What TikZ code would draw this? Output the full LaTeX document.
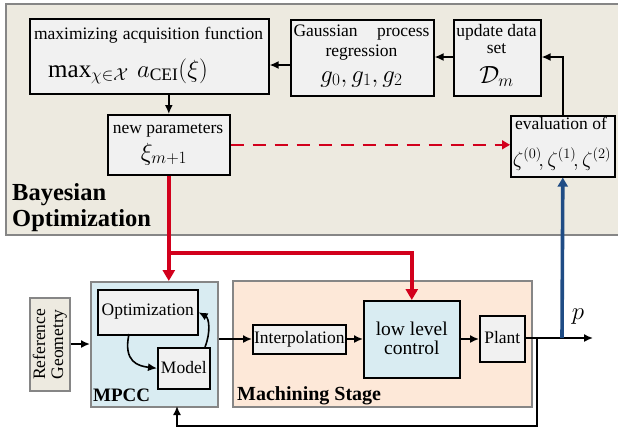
\documentclass[tikz,border=0pt]{standalone}
\usepackage{fontspec}
\setmainfont{Liberation Serif}
\usetikzlibrary{arrows.meta,calc}
\definecolor{bobg}{HTML}{EDEAE0}
\definecolor{boxg}{HTML}{F1F1F1}
\definecolor{grpb}{HTML}{868686}
\definecolor{mpccbg}{HTML}{D9ECF2}
\definecolor{machbg}{HTML}{FDE8D8}
\definecolor{redc}{HTML}{D2001C}
\definecolor{bluec}{HTML}{1F4C85}
\begin{document}
\begin{tikzpicture}[x=1pt,y=-1pt,
  txt/.style={inner sep=0pt, font=\fontsize{17.5}{19}\selectfont},
  mth/.style={inner sep=0pt, font=\fontsize{25}{28}\selectfont},
  ttl/.style={inner sep=0pt, font=\fontsize{#1}{#1}\selectfont\bfseries},
  blk/.style={draw=black, line width=1.6pt, fill=boxg, inner sep=0pt, anchor=north west},
  grp/.style={draw=grpb, line width=1.8pt, inner sep=0pt, anchor=north west},
  arr/.style={-{Latex[length=9pt,width=8pt]}, line width=1.6pt},
  redarr/.style={draw=redc, line width=3.6pt, -{Triangle[length=11pt,width=12pt]}},
  reddash/.style={draw=redc, line width=1.5pt, dash pattern=on 13pt off 9pt, -{Triangle[length=8pt,width=9pt]}},
  bluearr/.style={draw=bluec, line width=3.6pt, -{Triangle[length=9pt,width=10pt]}}]
\useasboundingbox (0,0) rectangle (618,432);
\fill[white] (0,0) rectangle (618,432);

% Bayesian optimization group
\node[grp, fill=bobg, minimum width=625pt, minimum height=231pt] (bo) at (5,3) {};
\node[ttl=24.5, anchor=base west] (bol1) at (12,200) {Bayesian};
\node[ttl=24.5, anchor=base west] (bol2) at (12,226) {Optimization};

% BO blocks
\node[blk, minimum width=239pt, minimum height=75pt] (maxb) at (29,18) {};
\node[txt, anchor=base] (maxt) at (148.5,39) {\makebox[229pt][s]{maximizing acquisition function}};
\node[mth, anchor=base west] (maxm) at (48,77) {$\max_{\chi\in\mathcal{X}}\,a_{\mathrm{CEI}}(\xi)$};

\node[blk, minimum width=143pt, minimum height=76pt] (gpr) at (290,19) {};
\node[txt, anchor=base] (gprt1) at (361.5,36) {\makebox[136pt][s]{Gaussian process}};
\node[txt, anchor=base] (gprt2) at (361.5,56) {regression};
\node[mth, anchor=base] (gprm) at (361.5,82) {$g_0,g_1,g_2$};

\node[blk, minimum width=87pt, minimum height=76pt] (upd) at (453,19) {};
\node[txt, anchor=base] (updt1) at (496.5,36) {update data};
\node[txt, anchor=base] (updt2) at (496.5,53) {set};
\node[mth, anchor=base] (updm) at (496.5,83) {$\mathcal{D}_m$};

\node[blk, minimum width=122pt, minimum height=60pt] (newp) at (107,114) {};
\node[txt, anchor=base] (newpt) at (168,133) {new parameters};
\node[mth, anchor=base] (newpm) at (164,160) {$\xi_{m+1}$};

\node[blk, minimum width=104pt, minimum height=61pt] (eval) at (510,115) {};
\node[txt, anchor=base] (evalt) at (561,129) {evaluation of};
\node[inner sep=0pt, font=\fontsize{21}{23}\selectfont, anchor=base] (evalm) at (562,166) {$\zeta^{(0)}\!,\zeta^{(1)}\!,\zeta^{(2)}$};

% BO arrows
\draw[arr] (gpr.west |- 0,65) -- (maxb.east |- 0,65);
\draw[arr] (upd.west |- 0,57) -- (gpr.east |- 0,57);
\draw[arr] (eval.north) |- (upd.east |- 0,57);
\draw[arr] (maxb.south -| newp.north) -- (newp.north);
\draw[reddash] (newp.east) -- (eval.west |- newp.east);

% Lower groups
\node[grp, fill=mpccbg, minimum width=127pt, minimum height=125pt] (mpcc) at (90,281) {};
\node[ttl=19, anchor=base west] (mpccl) at (93,401) {MPCC};
\node[grp, fill=machbg, minimum width=299pt, minimum height=126pt] (mach) at (232,280) {};
\node[ttl=20, anchor=base west] (machl) at (237,400) {Machining Stage};

\node[grp, fill=bobg, minimum width=40pt, minimum height=93pt] (ref) at (29,297) {};
\node[txt, rotate=90, align=center, font=\fontsize{17.5}{18}\selectfont] (reft) at (ref.center) {Reference\\Geometry};

\node[blk, minimum width=100pt, minimum height=45pt] (opt) at (97,289) {};
\node[txt, anchor=base] (optt) at (opt.center |- 0,315) {Optimization};
\node[blk, minimum width=52pt, minimum height=41pt] (model) at (157,347) {};
\node[txt, anchor=base] (modelt) at (model.center |- 0,373) {Model};

\node[blk, minimum width=93pt, minimum height=29pt] (interp) at (252,324) {};
\node[txt, anchor=base] (interpt) at (interp.center |- 0,343) {Interpolation};
\node[blk, fill=mpccbg, minimum width=96pt, minimum height=77pt] (llc) at (363,300) {};
\node[inner sep=0pt, font=\fontsize{19.5}{20}\selectfont, anchor=base] (llct1) at (llc.center |- 0,335) {low level};
\node[inner sep=0pt, font=\fontsize{19.5}{20}\selectfont, anchor=base] (llct2) at (llc.center |- 0,354) {control};
\node[blk, minimum width=45pt, minimum height=46pt] (plant) at (479,315) {};
\node[txt, anchor=base] (plantt) at (plant.center |- 0,343) {Plant};

\node[mth, anchor=base] (plab) at (578,319) {$p$};

% coordinates
\coordinate (pout) at (593,338);
\coordinate (fb) at (537,338);
\coordinate (fbin) at (177,406);
\coordinate (rj) at (168,253);
\coordinate (bj) at (562,338);

% lower arrows
\draw[arr] (ref.east |- 0,344) -- (mpcc.west |- 0,344);
\draw[arr] (mpcc.east |- 0,339) -- (interp.west |- 0,339);
\draw[arr] (interp.east |- 0,339) -- (llc.west |- 0,339);
\draw[arr] (llc.east |- 0,339) -- (plant.west |- 0,339);
\draw[arr] (plant.east |- 0,338) -- (pout);
\draw[arr] (fb) |- (fbin |- 0,426) -- (fbin);
\draw[arr] (129,334) .. controls (123,362) and (138,366) .. (model.west);
\draw[arr] (205,347) .. controls (211,332) and (209,318) .. (opt.east);

% red and blue
\draw[redarr] (newp.south) -- (newp.south |- mpcc.north);
\draw[redarr] (rj) -| (llc.north);
\draw[bluearr] (bj) -- (eval.south);
\end{tikzpicture}
\end{document}
